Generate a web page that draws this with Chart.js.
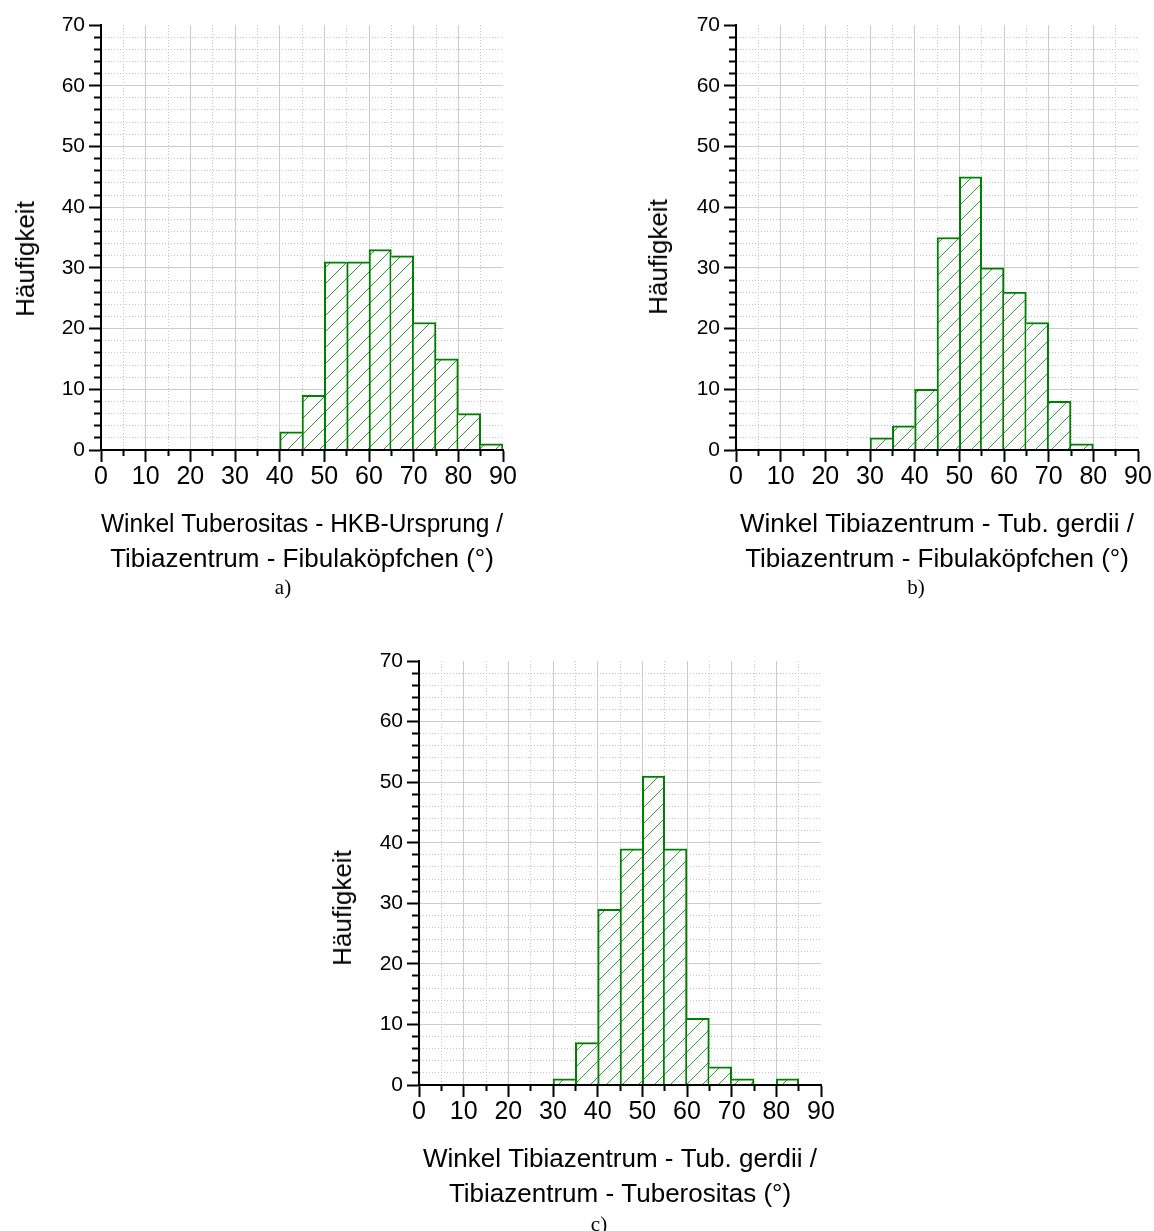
<!DOCTYPE html>
<html lang="de">
<head>
<meta charset="utf-8">
<title>Winkelverteilungen</title>
<script src="https://cdn.jsdelivr.net/npm/chart.js@4.4.1/dist/chart.umd.min.js"></script>
<style>
  html, body { margin: 0; padding: 0; background: #fff; }
  #page { position: relative; width: 1154px; height: 1231px; overflow: hidden;
          font-family: 'Liberation Sans', Arial, sans-serif; color: #000; }
  .plot { position: absolute; }
  .ytitle { position: absolute; font-size: 26px; line-height: 1; white-space: nowrap;
            transform: translate(-50%, -50%) rotate(-90deg); }
  .caption { position: absolute; font-family: 'Liberation Serif', 'Times New Roman', serif;
             font-size: 21px; line-height: 1; transform: translateX(-50%); }
</style>
</head>
<body>
<div id="page">
  <div class="plot" style="left:0;top:0;width:530px;height:600px"><canvas id="chartA"></canvas></div>
  <div class="plot" style="left:636px;top:0;width:518px;height:600px"><canvas id="chartB"></canvas></div>
  <div class="plot" style="left:318px;top:636px;width:530px;height:599px"><canvas id="chartC"></canvas></div>

  <div class="ytitle" style="left:25px;top:259px">Häufigkeit</div>
  <div class="ytitle" style="left:658px;top:257px">Häufigkeit</div>
  <div class="ytitle" style="left:342px;top:908px">Häufigkeit</div>

  <div class="caption" style="left:283px;top:577px">a)</div>
  <div class="caption" style="left:916px;top:577px">b)</div>
  <div class="caption" style="left:599px;top:1214px">c)</div>
</div>

<script>
// Klassen: 5°-Intervalle von 0 bis 90
const binStarts = [0, 5, 10, 15, 20, 25, 30, 35, 40, 45, 50, 55, 60, 65, 70, 75, 80, 85];
const binWidth = 5;

// Häufigkeiten je Klasse
const countsA = [0, 0, 0, 0, 0, 0, 0, 0, 3, 9, 31, 31, 33, 32, 21, 15, 6, 1];
const countsB = [0, 0, 0, 0, 0, 0, 2, 4, 10, 35, 45, 30, 26, 21, 8, 1, 0, 0];
const countsC = [0, 0, 0, 0, 0, 0, 1, 7, 29, 39, 51, 39, 11, 3, 1, 0, 1, 0];

const xTitleA = ['Winkel Tuberositas - HKB-Ursprung /', 'Tibiazentrum - Fibulaköpfchen (°)'];
const xTitleB = ['Winkel Tibiazentrum - Tub. gerdii /', 'Tibiazentrum - Fibulaköpfchen (°)'];
const xTitleC = ['Winkel Tibiazentrum - Tub. gerdii /', 'Tibiazentrum - Tuberositas (°)'];
const yTitle = 'Häufigkeit';

const xMax = 90;
const yMax = 70;

Chart.defaults.font.family = "'Liberation Sans', Arial, sans-serif";
Chart.defaults.color = '#000';

// crisp diagonal hatching on white, used as bar fill
function hatchPattern() {
  const size = 16;
  const c = document.createElement('canvas');
  c.width = size;
  c.height = size;
  const g = c.getContext('2d');
  g.fillStyle = '#fff';
  g.fillRect(0, 0, size, size);
  g.fillStyle = '#2b9b2b';
  for (let i = 0; i < size; i++) {
    g.fillRect(i, (size - i) % size, 1, 1);
  }
  return g.createPattern(c, 'repeat');
}

const hatch = hatchPattern();
const majorGrid = '#cccccc';
const minorGrid = '#c4c4c4';

function makeHistogram(id, counts, xTitle, axisWidth, padRight) {
  const points = binStarts.map((s, i) => ({ x: s + binWidth / 2, y: counts[i] }));

  // shared edges between neighbouring bars are drawn only once
  const edges = ctx => {
    const i = ctx.dataIndex;
    const own = counts[i];
    const prev = i > 0 ? counts[i - 1] : 0;
    const next = i < counts.length - 1 ? counts[i + 1] : 0;
    return { top: 2, bottom: 0, left: prev <= own ? 2 : 0, right: next < own ? 2 : 0 };
  };

  new Chart(document.getElementById(id), {
    type: 'bar',
    data: {
      datasets: [{
        label: yTitle,
        data: points,
        backgroundColor: hatch,
        borderColor: '#008000',
        borderWidth: edges,
        borderSkipped: false,
        barPercentage: 1,
        categoryPercentage: 1
      }]
    },
    options: {
      responsive: true,
      maintainAspectRatio: false,
      animation: false,
      layout: { padding: { top: 25, left: 0, right: padRight, bottom: 0 } },
      plugins: { legend: { display: false }, tooltip: { enabled: false } },
      scales: {
        x: {
          type: 'linear',
          min: 0,
          max: xMax,
          offset: false,
          ticks: {
            stepSize: 5,
            autoSkip: false,
            maxRotation: 0,
            padding: 0,
            font: { size: 25 },
            callback: v => (v % 10 === 0 ? v : '')
          },
          grid: {
            offset: false,
            lineWidth: 1,
            color: ctx => (ctx.tick.value === xMax ? 'rgba(0,0,0,0)' : (ctx.tick.value % 10 === 0 ? majorGrid : minorGrid)),
            tickLength: 12,
            tickWidth: 2,
            tickColor: '#000',
            tickBorderDash: ctx => (ctx.tick && ctx.tick.value % 10 !== 0 ? [5, 30] : [])
          },
          border: {
            color: '#000',
            width: 2,
            z: 1,
            dash: ctx => (ctx.tick && ctx.tick.value % 10 !== 0 ? [1, 2] : [])
          },
          title: {
            display: true,
            text: xTitle,
            font: { size: 26, lineHeight: 1.35 },
            padding: { top: 0, bottom: 23 }
          },
          afterFit: scale => { scale.height = 150; }
        },
        y: {
          min: 0,
          max: yMax,
          ticks: {
            stepSize: 2,
            autoSkip: false,
            padding: 4,
            font: { size: 21 },
            callback: v => (v % 10 === 0 ? v : '')
          },
          grid: {
            lineWidth: 1,
            color: ctx => (ctx.tick.value === yMax ? 'rgba(0,0,0,0)' : (ctx.tick.value % 10 === 0 ? majorGrid : minorGrid)),
            tickLength: 12,
            tickWidth: 2,
            tickColor: '#000',
            tickBorderDash: ctx => (ctx.tick && ctx.tick.value % 10 !== 0 ? [0, 5, 6, 0] : [])
          },
          border: {
            color: '#000',
            width: 2,
            z: 1,
            dash: ctx => (ctx.tick && ctx.tick.value % 10 !== 0 ? [1, 2] : [])
          },
          afterFit: scale => { scale.width = axisWidth; }
        }
      }
    }
  });
}

makeHistogram('chartA', countsA, xTitleA, 101, 27);
makeHistogram('chartB', countsB, xTitleB, 100, 16);
makeHistogram('chartC', countsC, xTitleC, 101, 27);
</script>
</body>
</html>
